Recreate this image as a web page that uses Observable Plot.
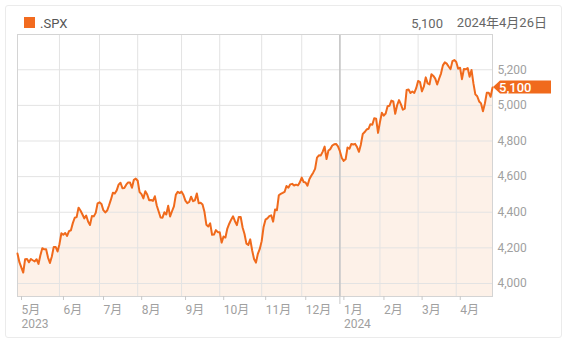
<!DOCTYPE html>
<html>
<head>
<meta charset="utf-8">
<script src="https://cdn.jsdelivr.net/npm/d3@7"></script>
<script src="https://cdn.jsdelivr.net/npm/@observablehq/plot@0.6"></script>
<style>
  html, body { margin: 0; padding: 0; background: #fff; }
  #wrap { position: relative; width: 567px; height: 339px; font-family: Roboto, "Noto Sans CJK JP", sans-serif; }
  #card { position: absolute; left: 5px; top: 5px; width: 555px; height: 331px; border: 1px solid #ebebeb; border-radius: 3px; pointer-events: none; }
  #header { position: relative; height: 30px; }
  #header span { position: absolute; line-height: 13px; font-size: 13px; white-space: nowrap; }
  #sq { position: absolute; left: 24px; top: 17px; width: 11px; height: 11px; background: #f26b1f; }
  #sym { left: 40px; top: 17px; color: #555; }
  #last { right: 124px; top: 17px; color: #666; }
  #date { right: 20px; top: 16px; color: #666; }
  #chart svg { display: block; }
</style>
</head>
<body>
<div id="wrap">
  <div id="header">
    <div id="sq"></div>
    <span id="sym"></span>
    <span id="last"></span>
    <span id="date"></span>
  </div>
  <div id="chart"></div>
  <div id="card"></div>
</div>
<script>
// ---- data (S&P 500 daily closes, trading days) ----
const symbol = ".SPX";
const lastDateLabel = "2024年4月26日";
const monthLabels = ["5月","6月","7月","8月","9月","10月","11月","12月","1月","2月","3月","4月"];
const yearLabels  = ["2023","","","","","","","","2024","","",""];
const yTicks = [4000, 4200, 4400, 4600, 4800, 5000, 5200];

const may2023 = [4167.87,4119.58,4090.75,4061.22,4136.25,4138.12,4119.17,4137.64,4130.62,4124.08,4136.28,4109.90,4158.77,4198.05,4191.98,4192.63,4145.58,4115.24,4151.28,4205.45,4205.52,4179.83];
const jun2023 = [4221.02,4282.37,4273.79,4283.85,4267.52,4293.93,4298.86,4338.93,4369.01,4372.59,4425.84,4409.59,4388.71,4365.69,4381.89,4348.33,4328.82,4378.41,4376.86,4396.44,4450.38];
const jul2023 = [4455.59,4446.82,4411.59,4398.95,4409.53,4439.26,4472.16,4510.04,4505.42,4522.79,4554.98,4565.72,4534.87,4536.34,4554.64,4567.46,4566.75,4537.41,4582.23,4588.96];
const aug2023 = [4576.73,4513.39,4501.89,4478.03,4518.44,4499.38,4467.71,4468.83,4464.05,4489.72,4437.86,4404.33,4370.36,4369.71,4399.77,4387.55,4436.01,4376.31,4405.71,4433.31,4497.63,4514.87,4507.66];
const sep2023 = [4515.77,4496.83,4465.48,4451.14,4457.49,4487.46,4461.90,4467.44,4505.10,4450.32,4453.53,4443.95,4402.20,4330.00,4320.06,4337.44,4273.53,4274.51,4299.70,4288.05];
const oct2023 = [4288.39,4229.45,4263.75,4258.19,4308.50,4335.66,4358.24,4376.95,4349.61,4327.78,4373.63,4373.20,4314.60,4278.00,4224.16,4217.04,4247.68,4186.77,4137.23,4117.37,4166.82,4193.80];
const nov2023 = [4237.86,4317.78,4358.34,4365.98,4378.38,4382.78,4347.35,4415.24,4411.55,4495.70,4502.88,4508.24,4514.02,4547.38,4538.19,4556.62,4559.34,4550.43,4554.89,4550.58,4567.80];
const dec2023 = [4594.63,4569.78,4567.18,4549.34,4585.59,4604.37,4622.44,4643.70,4707.09,4719.55,4719.19,4740.56,4768.37,4698.35,4746.75,4754.63,4774.75,4781.58,4783.35,4769.83];
const jan2024 = [4742.83,4704.81,4688.68,4697.24,4763.54,4756.50,4783.45,4780.24,4783.83,4765.98,4739.21,4780.94,4839.81,4850.43,4864.60,4868.55,4894.16,4890.97,4927.93,4924.97,4845.65];
const feb2024 = [4906.19,4958.61,4942.81,4954.23,4995.06,4997.91,5026.61,5021.84,4953.17,5000.62,5029.73,5005.57,4975.51,4981.80,5087.03,5088.80,5069.53,5078.18,5069.76,5096.27];
const mar2024 = [5137.08,5130.95,5078.65,5104.76,5157.36,5123.69,5117.94,5175.27,5165.31,5150.48,5117.09,5149.42,5178.51,5224.62,5241.53,5234.18,5218.19,5203.58,5248.49,5254.35];
const apr2024 = [5243.77,5205.81,5211.49,5147.21,5204.34,5202.39,5209.91,5160.64,5199.06,5123.41,5061.82,5051.41,5022.21,5011.12,4967.23,5010.60,5070.55,5071.63,5048.42,5099.96];

const months = [may2023, jun2023, jul2023, aug2023, sep2023, oct2023, nov2023, dec2023, jan2024, feb2024, mar2024, apr2024];

// ---- build table ----
const data = [];
const monthStarts = [];
months.forEach(arr => {
  monthStarts.push(data.length);
  arr.forEach(v => data.push({i: data.length, v}));
});
const lastIdx = data.length - 1;
const lastVal = data[lastIdx].v;
const yearStart = monthStarts[yearLabels.indexOf("2024")];
const tickText = new Map(monthStarts.map((s, k) => [s, yearLabels[k] ? monthLabels[k] + "\n" + yearLabels[k] : monthLabels[k]]));
const fmt = d3.format(",");
const yMin = 3927, yMax = 5398;

document.getElementById("sym").textContent = symbol;
document.getElementById("last").textContent = fmt(Math.round(lastVal));
document.getElementById("date").textContent = lastDateLabel;

const chart = Plot.plot({
  width: 567,
  height: 309,
  marginTop: 4,
  marginLeft: 17,
  marginRight: 75,
  marginBottom: 43,
  x: {domain: [0, lastIdx], label: null},
  y: {domain: [yMin, yMax], label: null},
  style: {fontFamily: "Roboto, 'Noto Sans CJK JP', sans-serif", fontSize: "12px", background: "transparent", color: "#9e9e9e"},
  marks: [
    Plot.areaY(data, {x: "i", y1: yMin, y2: "v", fill: "#fdf1e8"}),
    Plot.gridY(yTicks, {stroke: "#e3e3e3", strokeOpacity: 1}),
    Plot.gridX(monthStarts.slice(1), {stroke: "#e3e3e3", strokeOpacity: 1}),
    Plot.ruleX([yearStart], {stroke: "#c6c6c6", strokeWidth: 1.6}),
    Plot.frame({stroke: "#d4d4d4"}),
    Plot.lineY(data, {x: "i", y: "v", stroke: "#f06a1c", strokeWidth: 2, strokeLinejoin: "round"}),
    Plot.axisY(yTicks, {anchor: "right", label: null, tickSize: 0, tickPadding: 5, textAnchor: "start", tickFormat: fmt, fill: "#a0a0a0"}),
    Plot.axisX(monthStarts, {anchor: "bottom", label: null, tickSize: 4, tickPadding: 3, textAnchor: "start", dx: 4, lineHeight: 1.2,
      tickFormat: d => tickText.get(d), stroke: "#c8c8c8", fill: "#a0a0a0"}),
    Plot.axisX([yearStart], {anchor: "bottom", label: null, tickSize: 8, tickFormat: () => "", stroke: "#c8c8c8"})
  ]
});
document.getElementById("chart").appendChild(chart);

// last-value tag on the right axis
const sx = chart.scale("x"), sy = chart.scale("y");
const tx = sx.apply(lastIdx) + 1, ty = sy.apply(lastVal);
const svg = d3.select(chart);
svg.append("path")
  .attr("d", `M${tx},${ty} L${tx + 7},${ty - 6.5} L${tx + 58},${ty - 6.5} L${tx + 58},${ty + 6.5} L${tx + 7},${ty + 6.5} Z`)
  .attr("fill", "#f06a1c");
svg.append("text")
  .attr("x", tx + 6).attr("y", ty).attr("dy", "0.36em")
  .attr("text-anchor", "start")
  .attr("fill", "#fff").attr("font-size", 13).attr("font-weight", 500)
  .text(fmt(Math.round(lastVal)));
</script>
</body>
</html>
